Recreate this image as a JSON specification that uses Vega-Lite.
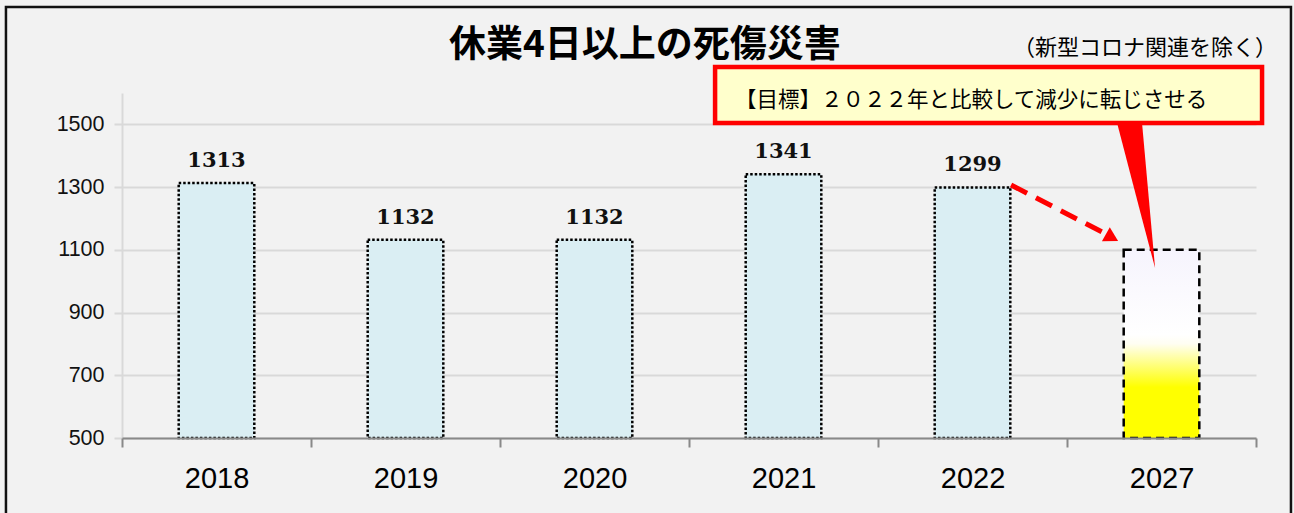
{
  "$schema": "https://vega.github.io/schema/vega-lite/v6.json",
  "width": 1134,
  "height": 345,
  "autosize": {"type": "none"},
  "padding": {"left": 122, "top": 93, "right": 38, "bottom": 75},
  "background": "#f2f2f2",
  "config": {"view": {"stroke": null}, "font": "Liberation Sans"},
  "layer": [
    {
      "data": {"values": [
        {"year": "2018", "value": 1313, "kind": "actual"},
        {"year": "2019", "value": 1132, "kind": "actual"},
        {"year": "2020", "value": 1132, "kind": "actual"},
        {"year": "2021", "value": 1341, "kind": "actual"},
        {"year": "2022", "value": 1299, "kind": "actual"},
        {"year": "2027", "value": 1100, "kind": "target"}
      ]},
      "encoding": {
        "x": {"field": "year", "type": "nominal", "sort": null,
          "scale": {"paddingInner": 0, "paddingOuter": 0},
          "axis": {"title": null, "labelAngle": 0, "tickBand": "extent", "domainColor": "#898989", "domainWidth": 2,
            "tickColor": "#898989", "tickWidth": 2, "tickSize": 9, "labelFontSize": 29, "labelColor": "#000000",
            "labelPadding": 17, "grid": false, "zindex": 1, "labelFont": "Liberation Sans"}},
        "y": {"field": "value", "type": "quantitative",
          "scale": {"domain": [500, 1600], "nice": false, "zero": false},
          "axis": {"values": [500, 700, 900, 1100, 1300, 1500], "format": "d", "title": null, "grid": true, "gridColor": "#d9d9d9",
            "gridWidth": 2, "domainColor": "#d9d9d9", "domainWidth": 2, "tickColor": "#d9d9d9", "tickWidth": 2,
            "tickSize": 8, "labelFontSize": 21.5, "labelColor": "#111111", "labelPadding": 10, "labelFont": "Liberation Sans"}}
      },
      "layer": [
        {
          "transform": [{"filter": "datum.kind == 'actual'"}],
          "mark": {"type": "bar", "width": {"band": 0.4}, "fill": "#daeef3", "stroke": "#000000", "strokeWidth": 2.5, "strokeDash": [2.5, 2]},
          "encoding": {"y2": {"datum": 500}}
        },
        {
          "transform": [{"filter": "datum.kind == 'target'"}],
          "mark": {"type": "bar", "width": {"band": 0.4}, "stroke": "#000000", "strokeWidth": 2.5, "strokeDash": [8, 5],
            "fill": {"gradient": "linear", "x1": 0, "y1": 0, "x2": 0, "y2": 1, "stops": [
              {"offset": 0, "color": "#f6f4fd"},
              {"offset": 0.45, "color": "#ffffff"},
              {"offset": 0.5, "color": "#fffef2"},
              {"offset": 0.73, "color": "#ffff00"},
              {"offset": 1, "color": "#ffff00"}
            ]}},
          "encoding": {"y2": {"datum": 500}}
        },
        {
          "transform": [{"filter": "datum.kind == 'actual'"}],
          "mark": {"type": "text", "font": "DejaVu Serif", "fontWeight": "bold", "fontSize": 21, "baseline": "alphabetic", "dy": -16, "color": "#111111"},
          "encoding": {"text": {"field": "value", "type": "quantitative", "format": "d"}}
        }
      ]
    },
    {
      "layer": [
        {
          "data": {"values": [{"x": -0.614, "x2": 6.185, "y": 1874, "y2": 239}]},
          "mark": {"type": "rect", "fillOpacity": 0, "stroke": "#111111", "strokeWidth": 2.5},
          "encoding": {
            "x": {"field": "x", "type": "quantitative", "scale": {"domain": [0, 6], "nice": false, "zero": false}, "axis": null},
            "x2": {"field": "x2"},
            "y": {"field": "y", "type": "quantitative", "scale": {"domain": [500, 1600], "nice": false, "zero": false}},
            "y2": {"field": "y2"}
          }
        },
        {
          "data": {"values": [
            {"x": 5.265, "y": 1504, "y2": 1504},
            {"x": 5.397, "y": 1504, "y2": 1199},
            {"x": 5.466, "y": 1042, "y2": 1042}
          ]},
          "mark": {"type": "area", "color": "#ff0000", "opacity": 1},
          "encoding": {
            "x": {"field": "x", "type": "quantitative", "scale": {"domain": [0, 6], "nice": false, "zero": false}, "axis": null},
            "y": {"field": "y", "type": "quantitative", "scale": {"domain": [500, 1600], "nice": false, "zero": false}},
            "y2": {"field": "y2"}
          }
        },
        {
          "data": {"values": [{"x": 3.138, "x2": 6.032, "y": 1683, "y2": 1504}]},
          "mark": {"type": "rect", "fill": "#ffffcc", "stroke": "#ff0000", "strokeWidth": 4.5},
          "encoding": {
            "x": {"field": "x", "type": "quantitative", "scale": {"domain": [0, 6], "nice": false, "zero": false}, "axis": null},
            "x2": {"field": "x2"},
            "y": {"field": "y", "type": "quantitative", "scale": {"domain": [500, 1600], "nice": false, "zero": false}},
            "y2": {"field": "y2"}
          }
        },
        {
          "data": {"values": [{"x": 3.243, "y": 1574.5, "label": "【目標】２０２２年と比較して減少に転じさせる"}]},
          "mark": {"type": "text", "font": "Noto Sans CJK JP", "fontSize": 21.5, "align": "left", "baseline": "middle", "color": "#000000"},
          "encoding": {
            "x": {"field": "x", "type": "quantitative", "scale": {"domain": [0, 6], "nice": false, "zero": false}, "axis": null},
            "y": {"field": "y", "type": "quantitative", "scale": {"domain": [500, 1600], "nice": false, "zero": false}},
            "text": {"field": "label"}
          }
        },
        {
          "data": {"values": [{"x": 2.767, "y": 1750, "label": "休業4日以上の死傷災害"}]},
          "mark": {"type": "text", "font": "Noto Sans CJK JP", "fontSize": 37, "fontWeight": "bold", "align": "center", "baseline": "middle", "color": "#000000"},
          "encoding": {
            "x": {"field": "x", "type": "quantitative", "scale": {"domain": [0, 6], "nice": false, "zero": false}, "axis": null},
            "y": {"field": "y", "type": "quantitative", "scale": {"domain": [500, 1600], "nice": false, "zero": false}},
            "text": {"field": "label"}
          }
        },
        {
          "data": {"values": [{"x": 5.413, "y": 1743, "label": "（新型コロナ関連を除く）"}]},
          "mark": {"type": "text", "font": "Noto Sans CJK JP", "fontSize": 22, "align": "center", "baseline": "middle", "color": "#000000"},
          "encoding": {
            "x": {"field": "x", "type": "quantitative", "scale": {"domain": [0, 6], "nice": false, "zero": false}, "axis": null},
            "y": {"field": "y", "type": "quantitative", "scale": {"domain": [500, 1600], "nice": false, "zero": false}},
            "text": {"field": "label"}
          }
        },
        {
          "data": {"values": [{"x": 4.704, "y": 1306.7}, {"x": 5.196, "y": 1153.6}]},
          "mark": {"type": "line", "color": "#ff0000", "strokeWidth": 5, "strokeDash": [18, 10], "strokeCap": "butt"},
          "encoding": {
            "x": {"field": "x", "type": "quantitative", "scale": {"domain": [0, 6], "nice": false, "zero": false}, "axis": null},
            "y": {"field": "y", "type": "quantitative", "scale": {"domain": [500, 1600], "nice": false, "zero": false}}
          }
        },
        {
          "data": {"values": [{"x": 5.238, "y": 1139}]},
          "mark": {"type": "point", "shape": "triangle-right", "angle": 29, "size": 260, "filled": true, "color": "#ff0000", "opacity": 1},
          "encoding": {
            "x": {"field": "x", "type": "quantitative", "scale": {"domain": [0, 6], "nice": false, "zero": false}, "axis": null},
            "y": {"field": "y", "type": "quantitative", "scale": {"domain": [500, 1600], "nice": false, "zero": false}}
          }
        }
      ]
    }
  ],
  "resolve": {"scale": {"x": "independent"}}
}
